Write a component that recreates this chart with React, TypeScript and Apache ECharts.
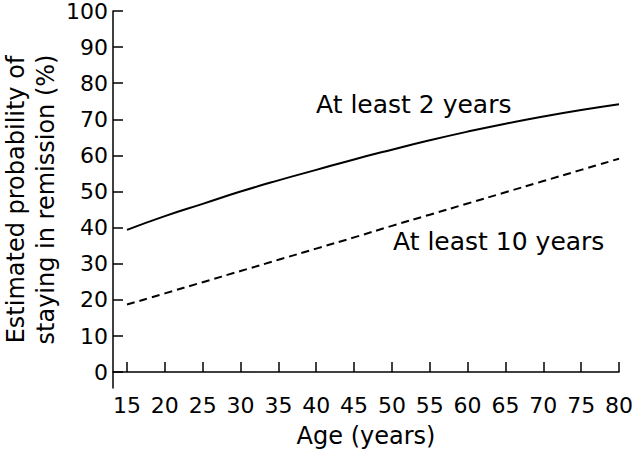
import React, { useEffect, useRef } from "react";
import * as echarts from "echarts";

const ages = [15, 20, 25, 30, 35, 40, 45, 50, 55, 60, 65, 70, 75, 80];
const atLeast2 = [39.4, 43.2, 46.6, 50.0, 53.1, 56.0, 58.9, 61.6, 64.2, 66.6, 68.8, 70.8, 72.6, 74.2];
const atLeast10 = [18.7, 21.8, 24.9, 28.0, 31.1, 34.2, 37.3, 40.5, 43.6, 46.7, 49.8, 52.9, 56.0, 59.1];
const xTicks = [15, 20, 25, 30, 35, 40, 45, 50, 55, 60, 65, 70, 75, 80];
const yTicks = [0, 10, 20, 30, 40, 50, 60, 70, 80, 90, 100];

const FONT = "DejaVu Sans";

export default function App() {
  const ref = useRef<HTMLDivElement>(null);
  useEffect(() => {
    if (!ref.current) return;
    const chart = echarts.init(ref.current, null, { renderer: "svg" });
    const axisLine = { show: true, lineStyle: { color: "#000", width: 1.5 } };
    chart.setOption({
      animation: false,
      backgroundColor: "#fff",
      grid: { left: 113, right: 21, top: 11, bottom: 65, containLabel: false, outerBoundsMode: "none" },
      xAxis: {
        type: "value",
        min: 13.15,
        max: 80,
        name: "Age (years)",
        nameLocation: "middle",
        nameGap: 36,
        nameMoveOverlap: false,
        nameTextStyle: { fontFamily: FONT, fontSize: 24, color: "#000" },
        axisLine,
        axisTick: { show: true, inside: true, length: 10, customValues: xTicks, lineStyle: { color: "#000", width: 1.5 } },
        axisLabel: { customValues: xTicks, fontFamily: FONT, fontSize: 22, color: "#000", margin: 6 },
        splitLine: { show: false },
      },
      yAxis: {
        type: "value",
        min: -4.4,
        max: 100,
        name: "Estimated probability of\nstaying in remission (%)",
        nameLocation: "middle",
        nameRotate: 90,
        nameGap: 82,
        nameMoveOverlap: false,
        nameTextStyle: { fontFamily: FONT, fontSize: 24, color: "#000", lineHeight: 30, verticalAlign: "middle" },
        axisLine,
        axisTick: { show: true, inside: true, length: 10, customValues: yTicks, lineStyle: { color: "#000", width: 1.5 } },
        axisLabel: { customValues: yTicks, fontFamily: FONT, fontSize: 22, color: "#000", margin: 5 },
        splitLine: { show: false },
      },
      series: [
        {
          type: "line",
          data: ages.map((a, i) => [a, atLeast2[i]]),
          smooth: true,
          showSymbol: false,
          lineStyle: { color: "#000", width: 2 },
        },
        {
          type: "line",
          data: ages.map((a, i) => [a, atLeast10[i]]),
          smooth: true,
          showSymbol: false,
          lineStyle: { color: "#000", width: 2, type: [8, 5] },
        },
      ],
      graphic: [
        {
          type: "text",
          left: 316,
          top: 92,
          style: { text: "At least 2 years", fontFamily: FONT, fontSize: 25, fill: "#000" },
        },
        {
          type: "text",
          left: 393,
          top: 229,
          style: { text: "At least 10 years", fontFamily: FONT, fontSize: 25, fill: "#000" },
        },
      ],
    });
    return () => chart.dispose();
  }, []);
  return <div ref={ref} style={{ width: 640, height: 453, position: "absolute", left: 0, top: 0 }} />;
}
